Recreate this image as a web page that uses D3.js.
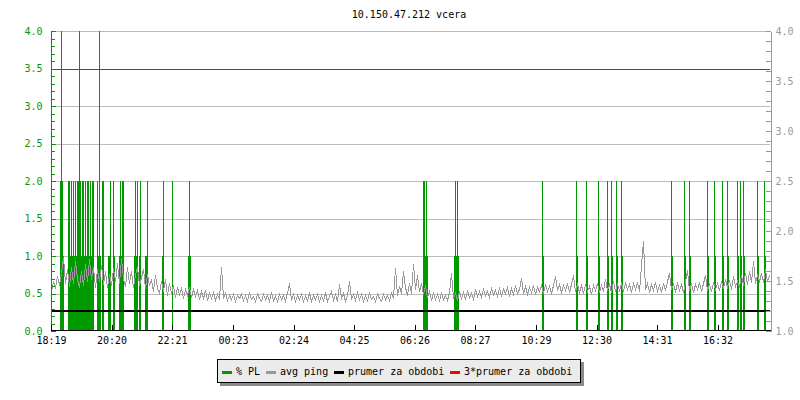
<!DOCTYPE html>
<html><head><meta charset="utf-8">
<script src="https://cdn.jsdelivr.net/npm/d3@7"></script>
<style>body{margin:0;background:#fff}text{font-family:"DejaVu Sans Mono",monospace;font-size:10px}</style>
</head><body><svg id="c" width="800" height="400"></svg>
<script>
const title = "10.150.47.212 vcera";
const tickLabels = ["18:19","20:20","22:21","00:23","02:24","04:25","06:26","08:27","10:29","12:30","14:31","16:32"];
const startLabel = "18:19";
const spanMinutes = 1440;
const leftTicks = [0.0,0.5,1.0,1.5,2.0,2.5,3.0,3.5,4.0];
const rightTicks = [1.0,1.5,2.0,2.5,3.0,3.5,4.0];
const avgPing = 1.205;
const avgPing3 = 3.615;
// packet loss intervals: [start minute, end minute, value] (left axis)
const plIntervals = [
 [20,22,4],[56,58,4],[96,98,4],
 [18,20,2],[22,24,2],[34,36,2],[36,38,2],[40,42,2],[44,46,2],[48,50,2],[52,54,2],[54,56,2],[58,60,2],
 [62,64,2],[64,66,2],[68,70,2],[72,74,2],[74,76,2],[78,80,2],[82,84,2],[84,86,2],[92,94,2],[102,104,2],
 [104,106,2],[118,120,2],[124,126,2],[138,140,2],[142,144,2],[144,146,2],[168,170,2],[172,174,2],
 [178,180,2],[192,194,2],[224,226,2],[242,244,2],[276,278,2],
 [18,26,1],[34,84,1],[92,100,1],[102,106,1],[114,120,1],[124,128,1],[136,144,1],[166,172,1],
 [176,180,1],[188,194,1],[222,226,1],[242,244,1],[274,280,1],
 [744,746,2],[746,748,2],[750,752,2],[808,810,2],[812,814,2],[982,984,2],[1050,1052,2],[1070,1072,2],
 [1094,1096,2],[1112,1114,2],[1120,1122,2],[1130,1132,2],[1140,1142,2],[1240,1242,2],[1266,1268,2],
 [1276,1278,2],[1312,1314,2],[1326,1328,2],[1342,1344,2],[1352,1354,2],[1372,1374,2],[1378,1380,2],
 [1384,1386,2],[1412,1414,2],[1426,1428,2],
 [744,754,1],[806,816,1],[982,986,1],[1050,1054,1],[1070,1074,1],[1094,1098,1],[1112,1116,1],
 [1120,1124,1],[1130,1134,1],[1140,1144,1],[1240,1244,1],[1266,1270,1],[1276,1280,1],[1312,1316,1],
 [1326,1330,1],[1342,1346,1],[1352,1356,1],[1372,1376,1],[1378,1382,1],[1384,1388,1],[1412,1416,1],
 [1426,1430,1]
];
// avg ping, one sample every 4 minutes (right axis)
const pingStep = 4;
const ping = [
 1.40,1.50,1.43,1.55,1.46, 1.58,1.74,1.48,1.62,1.45, 1.64,1.48,1.70,1.52,1.44, 1.60,1.46,1.67,1.50,1.72,
 1.52,1.64,1.44,1.62,1.50, 1.66,1.47,1.60,1.44,1.57, 1.46,1.63,1.50,1.68,1.48, 1.73,1.52,1.45,1.64,1.48,
 1.60,1.44,1.57,1.64,1.46, 1.54,1.62,1.43,1.57,1.46, 1.52,1.40,1.56,1.43,1.38, 1.50,1.40,1.52,1.36,1.48,
 1.38,1.46,1.34,1.44,1.37, 1.43,1.33,1.42,1.36,1.44, 1.34,1.42,1.35,1.41,1.32, 1.40,1.33,1.41,1.31,1.38,
 1.33,1.39,1.31,1.37,1.32, 1.64,1.34,1.38,1.31,1.36, 1.32,1.37,1.30,1.36,1.33,
 1.37,1.31,1.36,1.30,1.38,1.32,1.35,1.30,1.37,1.33,
 1.30,1.37,1.32,1.36,1.30,1.38,1.31,1.35,1.30,1.37,
 1.32,1.36,1.30,1.38,1.48,1.31,1.37,1.30,1.36,1.32,
 1.37,1.30,1.35,1.31,1.38,1.30,1.36,1.32,1.37,1.30,
 1.36,1.31,1.38,1.30,1.35,1.40,1.31,1.37,1.30,1.47,
 1.33,1.38,1.30,1.36,1.50,1.32,1.37,1.31,1.39,1.32,
 1.37,1.30,1.36,1.31,1.38,1.32,1.35,1.30,1.37,1.33,
 1.30,1.37,1.32,1.36,1.31,1.38,1.34,1.63,1.36,1.45,
 1.38,1.60,1.44,1.36,1.48,1.38,1.67,1.42,1.56,1.40,
 1.48,1.37,1.46,1.34,1.40,1.31,1.38,1.32,1.37,1.31,
 1.38,1.32,1.36,1.31,1.39,1.58,1.33,1.38,1.31,1.40,
 1.33,1.39,1.32,1.41,1.34,1.38,1.32,1.42,1.35,1.40,
 1.34,1.42,1.36,1.40,1.34,1.43,1.37,1.41,1.35,1.43,
 1.36,1.42,1.38,1.44,1.35,1.43,1.37,1.45,1.38,1.42,
 1.53,1.38,1.45,1.37,1.44,1.39,1.46,1.37,1.44,1.40,
 1.46,1.38,1.47,1.40,1.45,1.38,1.46,1.55,1.41,1.47,
 1.39,1.46,1.41,1.48,1.39,1.47,1.56,1.40,1.47,1.39,
 1.46,1.38,1.47,1.40,1.45,1.37,1.46,1.41,1.48,1.39,
 1.46,1.40,1.52,1.41,1.47,1.39,1.50,1.40,1.47,1.41,
 1.48,1.40,1.49,1.42,1.47,1.39,1.48,1.42,1.49,1.40,
 1.66,1.90,1.42,1.48,1.39,1.47,1.41,1.49,1.40,1.46,
 1.39,1.48,1.41,1.50,1.58,1.42,1.47,1.40,1.48,1.41,
 1.47,1.39,1.49,1.61,1.41,1.48,1.39,1.47,1.42,1.49,
 1.40,1.48,1.56,1.41,1.47,1.40,1.49,1.42,1.48,1.41,
 1.50,1.43,1.52,1.44,1.51,1.42,1.55,1.45,1.50,1.44,
 1.56,1.46,1.58,1.47,1.60,1.49,1.70,1.48,1.57,1.50,
 1.58,1.49,1.62,1.50,1.56
];
const legendLabels = ["% PL","avg ping","prumer za obdobi","3*prumer za obdobi"];

const GREEN = "#009900", GRAY = "#999999", RED = "#ff0000";
const legendColors = [GREEN, GRAY, "#000000", RED];

const svg = d3.select("#c");
const toMin = s => { const [h,m] = s.split(":").map(Number); return h*60+m; };
const t0 = toMin(startLabel);
const tickMinutes = tickLabels.map(l => ((toMin(l) - t0) + 1440) % 1440);

const x = d3.scaleLinear().domain([0, spanMinutes]).range([51, 771]);
const yL = d3.scaleLinear().domain([0, 4]).range([331, 31]);
const yR = d3.scaleLinear().domain([1, 4]).range([331, 31]);

// title
svg.append("text").attr("x", 409).attr("y", 18).attr("text-anchor", "middle").attr("fill", "#000").text(title);

// gridlines
svg.append("g").attr("shape-rendering", "crispEdges").selectAll("line").data(leftTicks.filter(v => v > 0)).join("line")
  .attr("x1", 51).attr("x2", 770)
  .attr("y1", d => Math.round(yL(d)) + 0.5).attr("y2", d => Math.round(yL(d)) + 0.5)
  .attr("stroke", "#bbbbbb").attr("stroke-width", 1);

// packet loss bars
svg.append("g").attr("shape-rendering", "crispEdges").selectAll("rect").data(plIntervals).join("rect")
  .attr("x", d => x(d[0])).attr("width", d => x(d[1]) - x(d[0]))
  .attr("y", d => yL(Math.min(d[2], 4))).attr("height", d => yL(0) - yL(Math.min(d[2], 4)))
  .attr("fill", GREEN);

// ping line
const line = d3.line().x((d, i) => x(i * pingStep) + 0.5).y(d => Math.round(yR(d)) + 0.5);
svg.append("path").datum(ping).attr("d", line).attr("fill", "none").attr("stroke", GRAY)
  .attr("stroke-width", 1).attr("shape-rendering", "crispEdges");

// average lines
svg.append("line").attr("x1", 51).attr("x2", 770).attr("y1", yR(avgPing)).attr("y2", yR(avgPing))
  .attr("stroke", "#000").attr("stroke-width", 2).attr("shape-rendering", "crispEdges");
svg.append("line").attr("x1", 51).attr("x2", 770).attr("y1", yR(avgPing3)).attr("y2", yR(avgPing3))
  .attr("stroke", RED).attr("stroke-width", 1).attr("shape-rendering", "crispEdges");

// left axis
const minorL = d3.range(0, 41).map(i => i / 10);
const gLm = svg.append("g").attr("transform", "translate(50.5,0)").attr("shape-rendering", "crispEdges")
  .call(d3.axisLeft(yL).tickValues(minorL).tickSize(-4).tickSizeOuter(0).tickFormat(""));
gLm.selectAll("line,path").attr("stroke", GREEN);
const gL = svg.append("g").attr("transform", "translate(50.5,0)").attr("shape-rendering", "crispEdges")
  .call(d3.axisLeft(yL).tickValues(leftTicks).tickSize(-5).tickSizeOuter(0).tickPadding(8).tickFormat(d3.format(".1f")));
gL.selectAll("line,path").attr("stroke", GREEN);
gL.selectAll("text").attr("fill", GREEN).style("font-size", "10px").style("font-family", "DejaVu Sans Mono");

// right axis
const minorR = d3.range(10, 41).map(i => i / 10);
const gR = svg.append("g").attr("transform", "translate(770.5,0)").attr("shape-rendering", "crispEdges")
  .call(d3.axisRight(yR).tickValues(minorR).tickSize(-5).tickSizeOuter(0).tickFormat(""));
gR.selectAll("line,path").attr("stroke", GRAY);
const gRl = svg.append("g").attr("transform", "translate(770.5,0)")
  .call(d3.axisRight(yR).tickValues(rightTicks).tickSize(-5).tickSizeOuter(0).tickPadding(5).tickFormat(d3.format(".1f")));
gRl.selectAll("line,path").attr("stroke", GRAY).attr("shape-rendering", "crispEdges");
gRl.selectAll("text").attr("fill", GRAY).style("font-size", "10px").style("font-family", "DejaVu Sans Mono");

// bottom axis
const gB = svg.append("g").attr("transform", "translate(0,330.5)").attr("shape-rendering", "crispEdges")
  .call(d3.axisBottom(x).tickValues(tickMinutes).tickSize(-6).tickSizeOuter(0).tickPadding(6)
    .tickFormat((d, i) => tickLabels[i]));
gB.select("path").attr("stroke", "#000").attr("d", "M51,0H771");
gB.selectAll("line").attr("stroke", "#000");
gB.selectAll("text").attr("fill", "#000").style("font-size", "10px").style("font-family", "DejaVu Sans Mono");

// legend
const lg = svg.append("g").attr("shape-rendering", "crispEdges");
lg.append("rect").attr("x", 220).attr("y", 362).attr("width", 364).attr("height", 24).attr("fill", "#8c8c8c");
lg.append("rect").attr("x", 217.5).attr("y", 359.5).attr("width", 363).attr("height", 23).attr("fill", "#ebebeb").attr("stroke", "#000");
const swX = [222, 266, 334, 450];
legendLabels.forEach((lab, i) => {
  lg.append("rect").attr("x", swX[i]).attr("y", 371).attr("width", 10).attr("height", 3).attr("fill", legendColors[i]);
  lg.append("text").attr("x", swX[i] + 14).attr("y", 375).attr("fill", "#000").text(lab);
});
</script></body></html>
